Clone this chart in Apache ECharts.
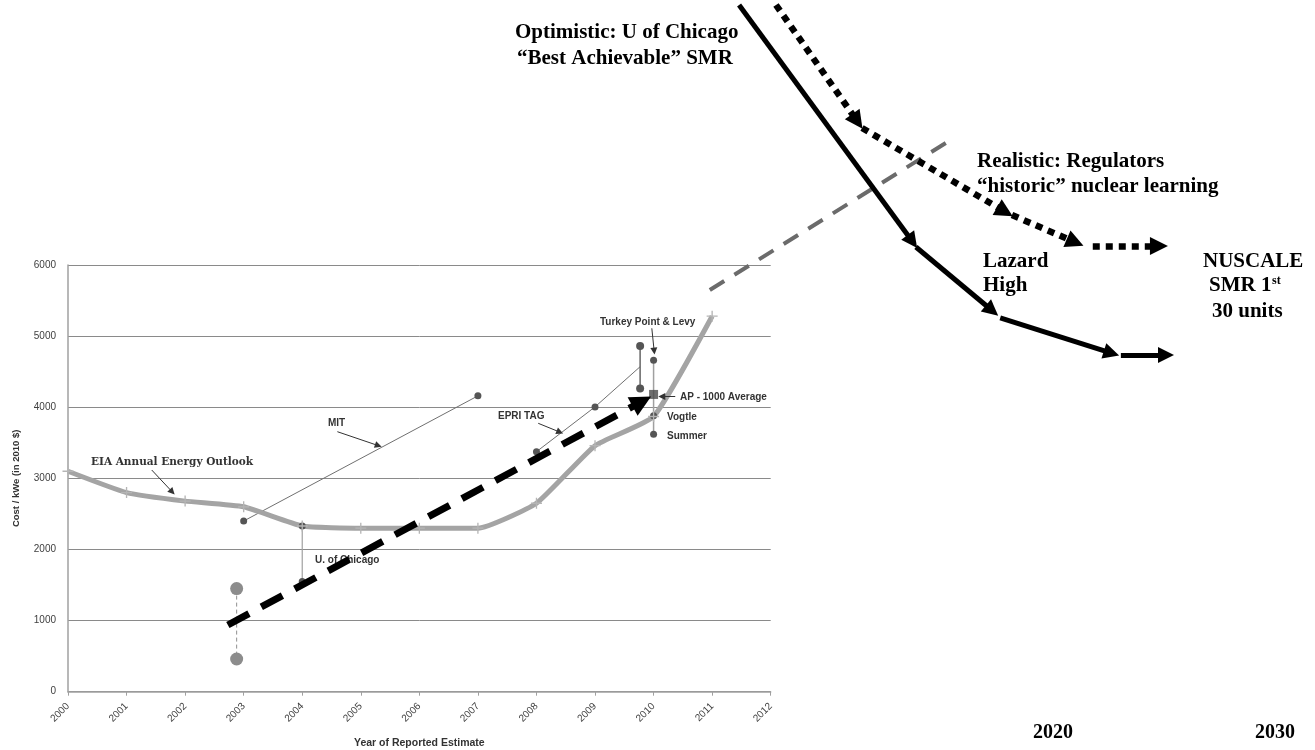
<!DOCTYPE html>
<html>
<head>
<meta charset="utf-8">
<title>Nuclear cost estimates</title>
<script src="https://cdn.jsdelivr.net/npm/echarts@6.0.0/dist/echarts.min.js"></script>
<style>
  html, body { margin: 0; padding: 0; background: #fff; }
  #chart { width: 1315px; height: 750px; }
</style>
</head>
<body>
<div id="chart"></div>
<script>
// cost per kWe (2010 $) by year of reported estimate
var eiaOutlook = [[2000, 3100], [2001, 2800], [2002, 2680], [2003, 2600], [2004, 2330], [2005, 2300],
                  [2006, 2300], [2007, 2300], [2008, 2650], [2009, 3460], [2010, 3870], [2011, 5280]];
var mitStudy = [[2003, 2400], [2007, 4160]];
var epriTag = [[2008, 3375], [2009, 4005], [2009.77, 4570]];
var epriRange = [[2009.77, 4860], [2009.77, 4265]];
var uChicago = [[2004, 2330], [2004, 1550]];
var smrRange = [[2002.88, 1450], [2002.88, 460]];
var plants2010 = [[2010, 4660], [2010, 3880], [2010, 3620]]; // Turkey Point & Levy, Vogtle, Summer
var ap1000Avg = [[2010, 4180]];

// trend arrows, same year / cost units, carried on past 2012
var trendArrow = [[2002.73, 938], [2009.80, 4080]];
var grayProjection = [[2010.96, 5648], [2014.99, 7715]];
var optimisticPath = [
  [[2011.46, 9656], [2014.42, 6330]],
  [[2014.48, 6253], [2015.78, 5360]],
  [[2015.92, 5255], [2017.82, 4760]],
  [[2017.98, 4734], [2018.75, 4734]]
];
var realisticPath = [
  [[2012.09, 9656], [2013.48, 8020]],
  [[2013.56, 7926], [2016.00, 6750]],
  [[2016.12, 6703], [2017.20, 6320]],
  [[2017.50, 6267], [2018.63, 6267]]
];
// little label pointers
var pointers = [
  [[2001.43, 3117], [2001.78, 2810]],
  [[2004.60, 3656], [2005.30, 3460]],
  [[2008.03, 3774], [2008.40, 3650]],
  [[2009.97, 5110], [2010.01, 4790]],
  [[2010.37, 4150], [2010.14, 4150]]
];

var yearTicks = [2000, 2012, 1];
var costTicks = [0, 6000, 1000];

// layout of the plotted box (pixels)
var W = 1315, H = 750;
var plotL = 68, plotR = 770.7, plotT = 265, plotB = 691.7;
var pxYear = (plotR - plotL) / (yearTicks[1] - yearTicks[0]);
var pxCost = (plotB - plotT) / (costTicks[1] - costTicks[0]);

var chart = echarts.init(document.getElementById('chart'));

var sans = '"Liberation Sans", Arial, sans-serif';
var serif = '"Liberation Serif", "Times New Roman", serif';

function txt(x, y, s, font, color) {
  return { type: 'text', x: x, y: y, z: 1,
    style: { text: s, font: font, fill: color || '#000', verticalAlign: 'middle' } };
}
var bigFont = 'bold 21px ' + serif;
var smallFont = 'bold 10px ' + sans;

function dotLine(data, lineColor, lineW, dotColor, dotSize, dash) {
  return {
    type: 'line', data: data, symbol: 'circle', symbolSize: dotSize,
    lineStyle: { color: lineColor, width: lineW, type: dash || 'solid' },
    itemStyle: { color: dotColor }, silent: true
  };
}

function arrows(segs, color, width, dash, headSize) {
  return {
    type: 'lines', coordinateSystem: 'cartesian2d', xAxisIndex: 1, yAxisIndex: 1,
    symbol: headSize ? ['none', 'triangle'] : 'none', symbolSize: headSize || 0,
    lineStyle: { color: color, width: width, type: dash || 'solid', opacity: 1, cap: 'butt' },
    data: segs.map(function (s) { return { coords: s }; }), silent: true, z: 5
  };
}

var option = {
  animation: false,
  backgroundColor: '#fff',
  grid: [
    { left: plotL, right: W - plotR, top: plotT, bottom: H - plotB, containLabel: false, outerBoundsMode: 'none' },
    { left: 0, right: 0, top: 0, bottom: 0, containLabel: false, outerBoundsMode: 'none' }
  ],
  xAxis: [{
    type: 'value', min: yearTicks[0], max: yearTicks[1], interval: yearTicks[2],
    name: 'Year of Reported Estimate', nameLocation: 'middle', nameGap: 46,
    nameTextStyle: { fontFamily: sans, fontWeight: 'bold', fontSize: 10.5, color: '#333' },
    axisLine: { lineStyle: { color: '#a0a0a0', width: 1.5 } },
    axisTick: { show: true, length: 4, lineStyle: { color: '#a0a0a0' } },
    axisLabel: { rotate: 45, margin: 13, fontFamily: sans, fontSize: 10, color: '#404040',
      formatter: function (v) { return String(v); } },
    splitLine: { show: false }
  }, {
    type: 'value', gridIndex: 1, show: false,
    min: yearTicks[0] - plotL / pxYear, max: yearTicks[1] + (W - plotR) / pxYear
  }],
  yAxis: [{
    type: 'value', min: costTicks[0], max: costTicks[1], interval: costTicks[2],
    name: 'Cost / kWe (in 2010 $)', nameLocation: 'middle', nameGap: 47,
    nameTextStyle: { fontFamily: sans, fontWeight: 'bold', fontSize: 9.5, color: '#333' },
    axisLine: { show: true, lineStyle: { color: '#a0a0a0', width: 1.5 } },
    axisTick: { show: false },
    axisLabel: { margin: 12, fontFamily: sans, fontSize: 10, color: '#404040',
      formatter: function (v) { return String(v); } },
    splitLine: { lineStyle: { color: '#8a8a8a', width: 1 } }
  }, {
    type: 'value', gridIndex: 1, show: false,
    min: costTicks[0] - (H - plotB) / pxCost, max: costTicks[1] + plotT / pxCost
  }],
  series: [
    dotLine(mitStudy, '#707070', 1, '#555', 7),
    dotLine(epriTag.map(function (p, i) {
      return i === epriTag.length - 1 ? { value: p, symbol: 'none' } : p;
    }), '#707070', 1, '#555', 7),
    dotLine(epriRange, '#666', 1.5, '#555', 8),
    dotLine(uChicago, '#a0a0a0', 1.2, '#555', 7),
    dotLine(smrRange, '#909090', 1, '#8c8c8c', 13, [4, 3]),
    dotLine(plants2010, '#a0a0a0', 1.5, '#555', 7),
    {
      type: 'line', data: eiaOutlook, smooth: 0.15,
      symbol: 'path://M4.4,0H5.6V4.4H10V5.6H5.6V10H4.4V5.6H0V4.4H4.4Z', symbolSize: 11,
      itemStyle: { color: '#b5b5b5' },
      lineStyle: { color: '#a4a4a4', width: 5 }, silent: true, z: 3
    },
    {
      type: 'scatter', data: ap1000Avg, symbol: 'rect', symbolSize: 9,
      itemStyle: { color: '#4a4a4a' }, silent: true, z: 4
    },
    arrows(pointers, '#333', 1, 'solid', [6, 7]),
    arrows([grayProjection], '#6b6b6b', 4, [17, 12]),
    arrows([trendArrow], '#000', 7, [24, 14], [19, 21]),
    arrows(optimisticPath, '#000', 5, 'solid', [14, 16]),
    arrows(realisticPath, '#000', 6.5, [7, 6], [16, 18])
  ],
  graphic: [
    txt(91, 462, 'EIA Annual Energy Outlook', 'bold 10.5px "DejaVu Serif", serif', '#333'),
    txt(328, 423, 'MIT', smallFont, '#333'),
    txt(498, 416, 'EPRI TAG', smallFont, '#333'),
    txt(600, 322, 'Turkey Point & Levy', smallFont, '#333'),
    txt(680, 397, 'AP - 1000 Average', smallFont, '#333'),
    txt(667, 417, 'Vogtle', smallFont, '#333'),
    txt(667, 436, 'Summer', smallFont, '#333'),
    txt(315, 560, 'U. of Chicago', smallFont, '#333'),
    txt(515, 33, 'Optimistic: U of Chicago', bigFont),
    txt(517, 59, '\u201cBest Achievable\u201d SMR', bigFont),
    txt(977, 162, 'Realistic: Regulators', bigFont),
    txt(977, 187, '\u201chistoric\u201d nuclear learning', bigFont),
    txt(983, 262, 'Lazard', bigFont),
    txt(983, 286, 'High', bigFont),
    txt(1203, 262, 'NUSCALE', bigFont),
    txt(1209, 286, 'SMR 1', bigFont),
    txt(1272, 281, 'st', 'bold 12px ' + serif),
    txt(1212, 312, '30 units', bigFont),
    txt(1033, 733, '2020', 'bold 20px ' + serif),
    txt(1255, 733, '2030', 'bold 20px ' + serif)
  ]
};

chart.setOption(option);
</script>
</body>
</html>
